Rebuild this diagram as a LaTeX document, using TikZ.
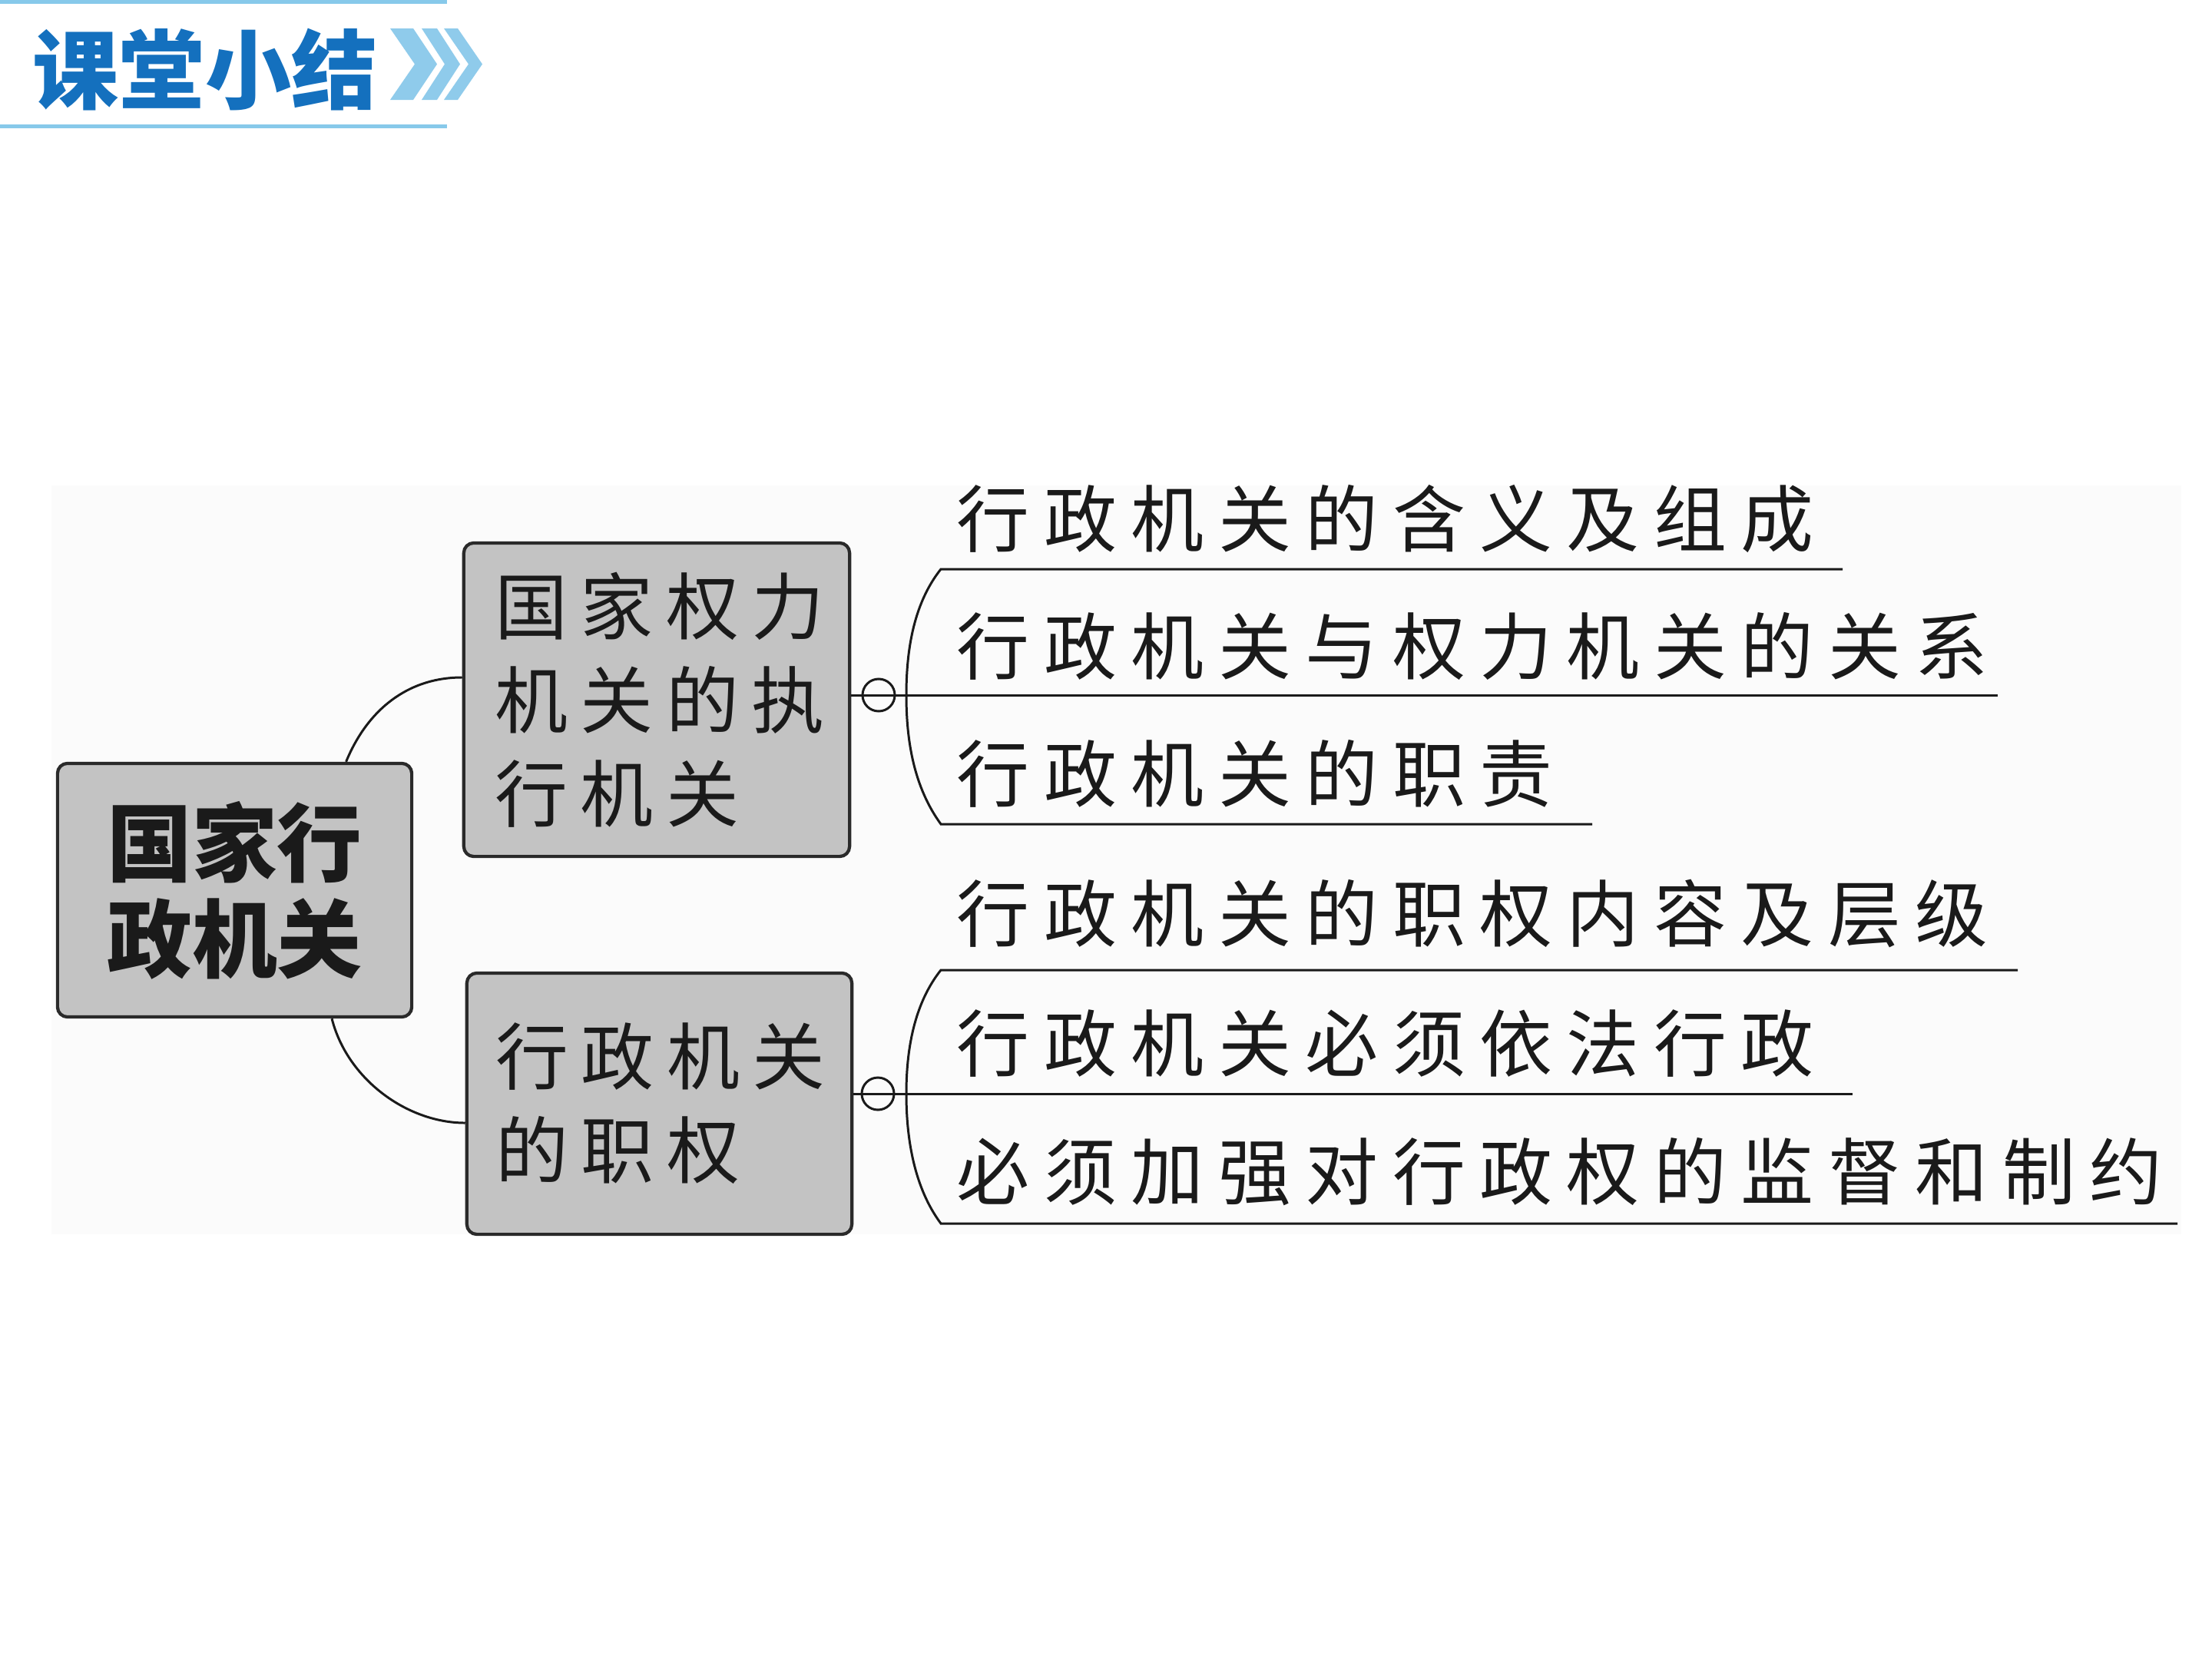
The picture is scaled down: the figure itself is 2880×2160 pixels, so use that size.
\documentclass[tikz,border=0pt]{standalone}
\usepackage{fontspec}
\newfontfamily\cjk{Noto Sans CJK SC}
\newfontfamily\cjkls{Noto Sans CJK SC}[LetterSpace=19.5]
\newfontfamily\cjkbox{Noto Sans CJK SC}[LetterSpace=17]
\definecolor{ink}{HTML}{1A1A1A}
\definecolor{boxfill}{HTML}{C3C3C3}
\definecolor{boxline}{HTML}{2A2A2A}
\definecolor{hdrline}{HTML}{87C9EA}
\definecolor{chev}{HTML}{8FCBEB}
\definecolor{hdrblue}{HTML}{1470BE}
\definecolor{band}{HTML}{FBFBFB}
\tikzset{
  box/.style={draw=boxline, fill=boxfill, line width=1.2pt, rounded corners=0.13cm},
  conn/.style={draw=ink, line width=0.85pt},
  item/.style={anchor=west, inner sep=0pt, text=ink, font=\cjkls\fontsize{27}{30}\selectfont},
  knot/.style={circle, draw=ink, line width=0.85pt, minimum size=0.42cm, inner sep=0pt},
}
\begin{document}
\begin{tikzpicture}[x=0.01cm,y=-0.01cm]
\useasboundingbox (0,0) rectangle (2880,2160);
\fill[white] (0,0) rectangle (2880,2160);

% header
\fill[hdrline] (0,0) rectangle (582,5);
\fill[hdrline] (0,162) rectangle (582,167);
\node[anchor=west, inner sep=0pt, text=hdrblue, font=\cjk\bfseries\fontsize{31.9}{32}\selectfont] (title) at (42,91) {课堂小结};
\fill[chev] (508,37) -- (538,37) -- (569,83.5) -- (538,130) -- (508,130) -- (540,83.5) -- cycle;
\fill[chev] (549,37) -- (569,37) -- (599,83.5) -- (569,130) -- (549,130) -- (579,83.5) -- cycle;
\fill[chev] (578,37) -- (596,37) -- (628,83.5) -- (596,130) -- (578,130) -- (610,83.5) -- cycle;

% faint background band
\fill[band] (67,632) rectangle (2840,1607);

% boxes
\node[box, minimum width=4.61cm, minimum height=3.3cm, align=center,
      font=\cjk\bfseries\fontsize{31.5}{35.6}\selectfont, text=ink] (root) at (305.5,1159) {国家行\\政机关};
\node[box, text width=4.2cm, inner xsep=0.41cm, minimum height=4.08cm, align=left,
      font=\cjkbox\fontsize{27}{34.7}\selectfont, text=ink] (A) at (855,911) {国家权力\\机关的执\\行机关};
\node[box, text width=4.25cm, inner xsep=0.38cm, minimum height=3.4cm, align=left,
      font=\cjkbox\fontsize{27}{34.7}\selectfont, text=ink] (B) at (858.5,1437) {行政机关\\的职权};

% root connectors
\draw[conn] ([xshift=1.45cm]root.north) .. controls (478,925) and (530,882) .. ([yshift=0.29cm]A.west);
\draw[conn] ([xshift=1.265cm]root.south) .. controls (452,1405) and (530,1462) .. ([yshift=-0.25cm]B.west);

% group 1
\coordinate (e1) at (2399,741);
\coordinate (e2) at (2601,905);
\coordinate (e3) at (2073,1073);
\coordinate (s1) at (1225,741);
\coordinate (j1) at (1180,905);
\coordinate (s3) at (1225,1073);
\node[knot] (c1) at (1144,905) {};
\draw[conn] (A.east |- c1) -- (e2);
\draw[conn] (e1) -- (s1) .. controls (1190,785) and (1180,845) .. (j1) .. controls (1180,965) and (1190,1025) .. (s3) -- (e3);

% group 2
\coordinate (e4) at (2627,1263);
\coordinate (e5) at (2412,1424);
\coordinate (e6) at (2835,1593);
\coordinate (s4) at (1225,1263);
\coordinate (j2) at (1180,1424);
\coordinate (s6) at (1225,1593);
\node[knot] (c2) at (1143,1424) {};
\draw[conn] (B.east |- c2) -- (e5);
\draw[conn] (e4) -- (s4) .. controls (1190,1307) and (1180,1367) .. (j2) .. controls (1180,1482) and (1190,1546) .. (s6) -- (e6);

% item texts
\node[item] (t1) at (1245,676) {行政机关的含义及组成};
\node[item] (t2) at (1245,841) {行政机关与权力机关的关系};
\node[item] (t3) at (1245,1007) {行政机关的职责};
\node[item] (t4) at (1245,1190) {行政机关的职权内容及层级};
\node[item] (t5) at (1245,1359) {行政机关必须依法行政};
\node[item] (t6) at (1245,1526) {必须加强对行政权的监督和制约};
\end{tikzpicture}
\end{document}
